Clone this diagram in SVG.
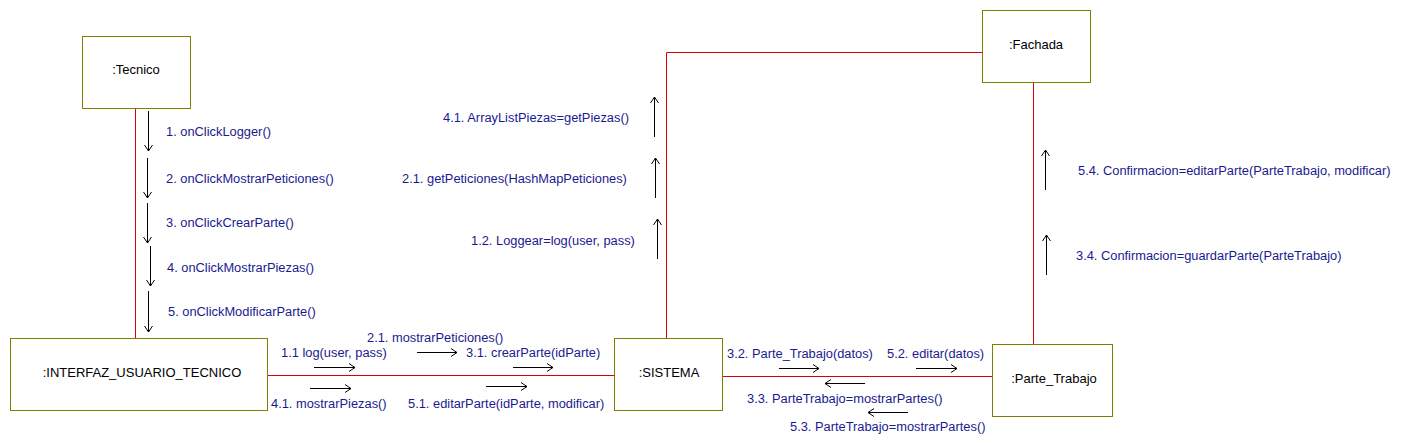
<svg xmlns="http://www.w3.org/2000/svg" width="1428" height="445" viewBox="0 0 1428 445">
  <defs>
    <style>
      .node { fill: #ffffff; stroke: #808000; stroke-width: 1; }
      .ntext { font-family: "Liberation Sans", Arial, sans-serif; font-size: 13px; fill: #000000; text-anchor: middle; }
      .link { stroke: #dd0000; stroke-width: 1; fill: none; }
      .msg { stroke: #000000; stroke-width: 1; fill: none; marker-end: url(#open); }
      .mtext { font-family: "Liberation Sans", Arial, sans-serif; font-size: 12.85px; fill: #1a1a90; }
    </style>
    <marker id="open" markerUnits="userSpaceOnUse" markerWidth="12" markerHeight="12" refX="7" refY="5" orient="auto">
      <path d="M1,1 L7,5 L1,9" fill="none" stroke="#000000" stroke-width="1"/>
    </marker>
  </defs>
  <rect width="1428" height="445" fill="#ffffff"/>

  <g id="connectors">
    <line class="link" x1="135.5" y1="108" x2="135.5" y2="339"/>
    <line class="link" x1="267" y1="375.5" x2="614" y2="375.5"/>
    <line class="link" x1="722" y1="376.5" x2="992" y2="376.5"/>
    <polyline class="link" points="666.5,339 666.5,52.5 982,52.5"/>
    <line class="link" x1="1033.5" y1="82" x2="1033.5" y2="344"/>
  </g>

  <g id="node-tecnico">
    <rect class="node" x="82.5" y="36.5" width="108" height="72"/>
    <text class="ntext" x="136" y="74">:Tecnico</text>
  </g>
  <g id="node-interfaz">
    <rect class="node" x="10.5" y="338.5" width="257" height="72"/>
    <text class="ntext" x="142" y="377">:INTERFAZ_USUARIO_TECNICO</text>
  </g>
  <g id="node-sistema">
    <rect class="node" x="614.5" y="338.5" width="108" height="72"/>
    <text class="ntext" x="669" y="377">:SISTEMA</text>
  </g>
  <g id="node-fachada">
    <rect class="node" x="982.5" y="10.5" width="108" height="72"/>
    <text class="ntext" x="1036" y="49">:Fachada</text>
  </g>
  <g id="node-parte-trabajo">
    <rect class="node" x="992.5" y="344.5" width="120" height="72"/>
    <text class="ntext" x="1054" y="383">:Parte_Trabajo</text>
  </g>

  <g id="messages">
    <line class="msg" x1="148.5" y1="111" x2="148.5" y2="151"/>
    <text class="mtext" x="166" y="136">1. onClickLogger()</text>
    <line class="msg" x1="147.5" y1="158" x2="147.5" y2="198"/>
    <text class="mtext" x="166" y="183">2. onClickMostrarPeticiones()</text>
    <line class="msg" x1="147.5" y1="203" x2="147.5" y2="243"/>
    <text class="mtext" x="166" y="227">3. onClickCrearParte()</text>
    <line class="msg" x1="150.5" y1="246" x2="150.5" y2="286"/>
    <text class="mtext" x="167" y="272">4. onClickMostrarPiezas()</text>
    <line class="msg" x1="148.5" y1="291" x2="148.5" y2="332"/>
    <text class="mtext" x="168" y="316">5. onClickModificarParte()</text>

    <line class="msg" x1="654.5" y1="137" x2="654.5" y2="97"/>
    <text class="mtext" x="443" y="122">4.1. ArrayListPiezas=getPiezas()</text>
    <line class="msg" x1="655.5" y1="198" x2="655.5" y2="158"/>
    <text class="mtext" x="402" y="183">2.1. getPeticiones(HashMapPeticiones)</text>
    <line class="msg" x1="657.5" y1="259" x2="657.5" y2="219"/>
    <text class="mtext" x="471" y="245">1.2. Loggear=log(user, pass)</text>

    <line class="msg" x1="1045.5" y1="190" x2="1045.5" y2="150"/>
    <text class="mtext" x="1078" y="175">5.4. Confirmacion=editarParte(ParteTrabajo, modificar)</text>
    <line class="msg" x1="1046.5" y1="275" x2="1046.5" y2="235"/>
    <text class="mtext" x="1076" y="260">3.4. Confirmacion=guardarParte(ParteTrabajo)</text>

    <text class="mtext" x="367" y="342">2.1. mostrarPeticiones()</text>
    <text class="mtext" x="281" y="357">1.1 log(user, pass)</text>
    <line class="msg" x1="417" y1="352.5" x2="457" y2="352.5"/>
    <text class="mtext" x="466" y="357">3.1. crearParte(idParte)</text>
    <line class="msg" x1="314" y1="367.5" x2="355" y2="367.5"/>
    <line class="msg" x1="513" y1="367.5" x2="553" y2="367.5"/>
    <line class="msg" x1="310" y1="388.5" x2="351" y2="388.5"/>
    <line class="msg" x1="486" y1="386.5" x2="527" y2="386.5"/>
    <text class="mtext" x="271" y="408">4.1. mostrarPiezas()</text>
    <text class="mtext" x="408" y="408">5.1. editarParte(idParte, modificar)</text>

    <text class="mtext" x="727" y="358">3.2. Parte_Trabajo(datos)</text>
    <line class="msg" x1="779" y1="368.5" x2="819" y2="368.5"/>
    <text class="mtext" x="887" y="358">5.2. editar(datos)</text>
    <line class="msg" x1="916" y1="368.5" x2="957" y2="368.5"/>
    <line class="msg" x1="865" y1="383.5" x2="825" y2="383.5"/>
    <text class="mtext" x="747" y="403">3.3. ParteTrabajo=mostrarPartes()</text>
    <line class="msg" x1="908" y1="412.5" x2="868" y2="412.5"/>
    <text class="mtext" x="790" y="431">5.3. ParteTrabajo=mostrarPartes()</text>
  </g>
</svg>
